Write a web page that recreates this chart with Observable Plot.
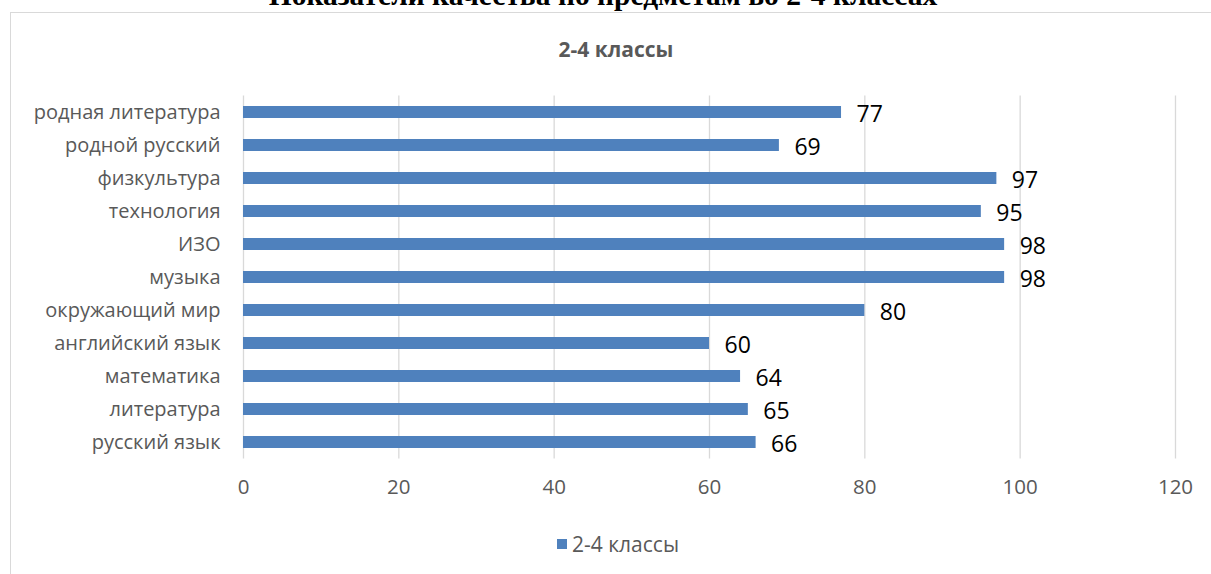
<!DOCTYPE html>
<html><head><meta charset="utf-8">
<script src="https://cdn.jsdelivr.net/npm/d3@7"></script>
<script src="https://cdn.jsdelivr.net/npm/@observablehq/plot@0.6"></script>
<style>
body{margin:0;background:#fff;overflow:hidden;}
#wrap{position:relative;width:1211px;height:574px;overflow:hidden;}
#frame{position:absolute;left:10px;top:12px;width:1215px;height:600px;border:1px solid #d9d9d9;box-sizing:border-box;}
#title{position:absolute;left:0;width:1206px;top:-21px;line-height:1;text-align:center;font:bold 29.5px "Liberation Serif",serif;color:#000;white-space:nowrap;}
#sub{position:absolute;left:0;width:1232px;top:35px;text-align:center;font:bold 21px "Open Sans",sans-serif;color:#595959;}
#legend{position:absolute;left:557px;top:530px;font:21px "Open Sans",sans-serif;color:#595959;display:flex;align-items:center;}
#legend span.sw{display:inline-block;width:10px;height:10px;background:#4f81bd;margin-right:5px;}
#chart{position:absolute;left:0;top:0;}
</style></head>
<body><div id="wrap">
<div id="frame"></div>
<div id="title">Показатели качества по предметам во 2-4 классах</div>
<div id="sub">2-4 классы</div>
<div id="chart"></div>
<div id="legend"><span class="sw"></span><span id="legtext">2-4 классы</span></div>
</div>
<script>
const categories = ["родная литература","родной русский","физкультура","технология","ИЗО","музыка","окружающий мир","английский язык","математика","литература","русский язык"];
const values = [77,69,97,95,98,98,80,60,64,65,66];
const xTicks = [0,20,40,60,80,100,120];
const seriesName = "2-4 классы";

const data = categories.map((c,i)=>({cat:c, v:values[i]}));
const H = 574;
const chart = Plot.plot({
  width:1211, height:H,
  marginTop:95.5, marginBottom:H-458.5, marginLeft:243, marginRight:36,
  style:{background:"transparent", fontFamily:"Open Sans, sans-serif"},
  x:{domain:[0,120], ticks:xTicks, label:null},
  y:{domain:categories, label:null, paddingInner:0.64, paddingOuter:0.32},
  marks:[
    Plot.ruleX(xTicks,{stroke:"#d9d9d9", strokeWidth:1.3}),
    Plot.barX(data,{x:"v", y:"cat", fill:"#4f81bd"}),
    Plot.text(data,{x:"v", y:"cat", text:d=>String(d.v), textAnchor:"start", dx:15, dy:2, fontSize:23, fill:"#000"}),
    Plot.axisX({ticks:xTicks, tickSize:0, tickPadding:20, fontSize:20.5, color:"#595959", label:null}),
    Plot.axisY({tickSize:0, tickPadding:23, fontSize:20, color:"#595959", label:null})
  ]
});
document.getElementById("chart").appendChild(chart);
</script>
</body></html>
